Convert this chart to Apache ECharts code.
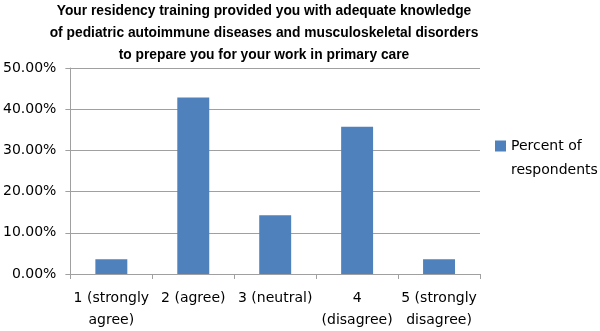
<!DOCTYPE html>
<html>
<head>
<meta charset="utf-8">
<script src="https://cdn.jsdelivr.net/npm/echarts@6/dist/echarts.min.js"></script>
<style>html,body{margin:0;padding:0;background:#fff;}#c{width:600px;height:331px;}</style>
</head>
<body>
<div id="c"></div>
<script>
const titleText = 'Your residency training provided you with adequate knowledge\nof pediatric autoimmune diseases and musculoskeletal disorders\nto prepare you for your work in primary care';
const categories = ['1 (strongly\nagree)', '2 (agree)', '3 (neutral)', '4\n(disagree)', '5 (strongly\ndisagree)'];
const seriesName = 'Percent of respondents';
const values = [3.57, 42.86, 14.29, 35.71, 3.57];
const yTicks = [0, 10, 20, 30, 40, 50];

const chart = echarts.init(document.getElementById('c'));
const labelFont = 'DejaVu Sans';
chart.setOption({
  animation: false,
  backgroundColor: '#fff',
  title: {
    text: titleText,
    left: 264, top: 0, textAlign: 'center',
    padding: 0,
    textStyle: { fontFamily: '"Liberation Sans", Arial', fontWeight: 'bold', fontSize: 13.8, lineHeight: 22, color: '#000' }
  },
  legend: {
    left: 495, top: 134, padding: 0,
    orient: 'vertical',
    icon: 'path://M0,0L10,0L10,10L0,10Z M0,31.8L0.01,31.8L0.01,31.81Z',
    itemWidth: 11, itemHeight: 35, itemGap: 0,
    formatter: () => 'Percent of\nrespondents',
    textStyle: { fontFamily: labelFont, fontSize: 14, lineHeight: 24, color: '#000' },
    data: [seriesName]
  },
  grid: { left: 68, right: 120, top: 68, bottom: 57 },
  xAxis: {
    type: 'category', data: categories,
    axisLine: { lineStyle: { color: '#a0a0a0', width: 1 } },
    axisTick: { show: true, length: 5, lineStyle: { color: '#a0a0a0' } },
    axisLabel: { fontFamily: labelFont, fontSize: 14, lineHeight: 22, color: '#000', margin: 13, interval: 0 }
  },
  yAxis: {
    type: 'value', min: 0, max: 50, interval: 10,
    axisLine: { show: true, lineStyle: { color: '#a0a0a0', width: 1 } },
    axisTick: { show: true, length: 5, lineStyle: { color: '#a0a0a0' } },
    splitLine: { lineStyle: { color: '#a0a0a0', width: 1 } },
    axisLabel: { fontFamily: labelFont, fontSize: 14, color: '#000', margin: 14,
      formatter: v => v.toFixed(2) + '%' }
  },
  series: [{
    name: seriesName, type: 'bar', data: values,
    barWidth: '39%',
    itemStyle: { color: '#4f81bd' }
  }]
});
</script>
</body>
</html>
